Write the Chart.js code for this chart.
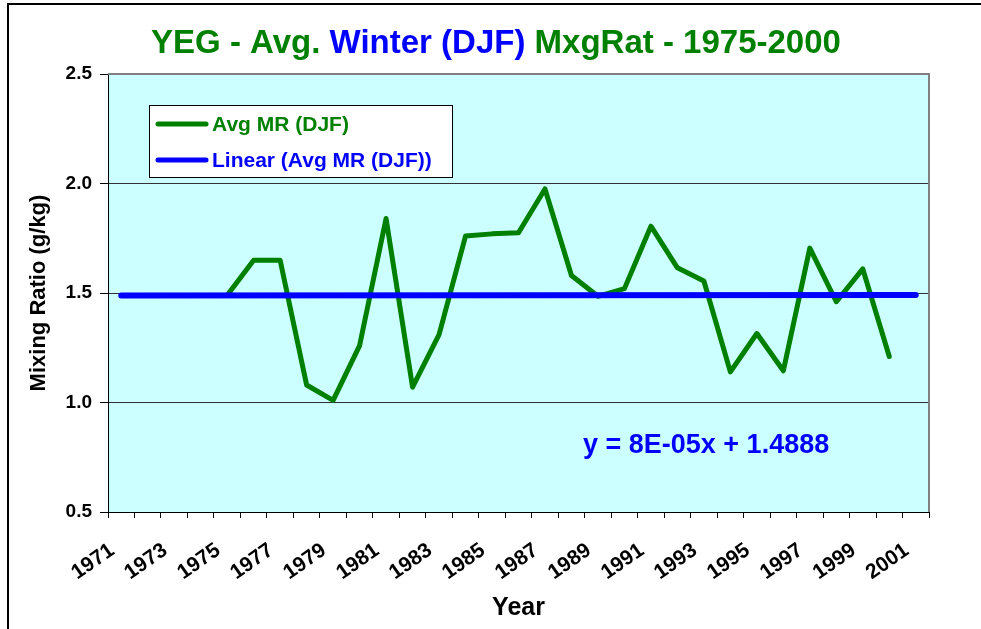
<!DOCTYPE html>
<html>
<head>
<meta charset="utf-8">
<script src="https://cdn.jsdelivr.net/npm/chart.js@4.4.1/dist/chart.umd.min.js"></script>
<style>
  html, body { margin: 0; padding: 0; background: #fff; }
  canvas { display: block; }
</style>
</head>
<body>
<canvas id="chart" width="981" height="629"></canvas>
<script>
// categories on the x axis (every year, labels shown on odd years only)
const years = ['1971','1972','1973','1974','1975','1976','1977','1978','1979','1980',
  '1981','1982','1983','1984','1985','1986','1987','1988','1989','1990',
  '1991','1992','1993','1994','1995','1996','1997','1998','1999','2000','2001']

// Avg MR (DJF), g/kg
const mrValues = [null, null, null, null, 1.49, 1.65, 1.65, 1.08, 1.01, 1.26,
  1.84, 1.07, 1.31, 1.76, 1.77, 1.775, 1.975, 1.58, 1.485, 1.52,
  1.805, 1.615, 1.555, 1.14, 1.315, 1.145, 1.705, 1.46, 1.61, 1.21, null]

// linear trend end points (Excel trendline, forecast to both ends)
const trendYears = ['1971', '2001']
const trendValues = [1.4889, 1.4913]

const yTicks = [0.5, 1.0, 1.5, 2.0, 2.5]

const titleParts = [
  { text: 'YEG - Avg. ', color: '#008000' },
  { text: 'Winter (DJF)', color: '#0000FF' },
  { text: ' MxgRat - 1975-2000', color: '#008000' }
]
const equation = 'y = 8E-05x + 1.4888'

const GREEN = '#008000'
const BLUE = '#0000FF'
const FONT = '"Liberation Sans", Arial, sans-serif'

const decor = {
  id: 'decor',
  beforeDraw(chart) {
    const { ctx, chartArea: a } = chart
    ctx.save()
    ctx.fillStyle = '#fff'
    ctx.fillRect(0, 0, chart.width, chart.height)
    // outer frame
    ctx.strokeStyle = '#000'
    ctx.lineWidth = 2
    ctx.beginPath()
    ctx.moveTo(8, 640)
    ctx.lineTo(8, 4)
    ctx.lineTo(990, 4)
    ctx.stroke()
    // plot background
    ctx.fillStyle = '#CCFFFF'
    ctx.fillRect(a.left, a.top, a.right - a.left, a.bottom - a.top)
    ctx.restore()
  },
  afterDraw(chart) {
    const { ctx, chartArea: a } = chart
    ctx.save()
    // gray top / right border of plot
    ctx.strokeStyle = '#808080'
    ctx.lineWidth = 2
    ctx.beginPath()
    ctx.moveTo(a.left, a.top)
    ctx.lineTo(a.right, a.top)
    ctx.lineTo(a.right, a.bottom)
    ctx.stroke()

    // title, two colours
    ctx.font = 'bold 33px ' + FONT
    ctx.textBaseline = 'middle'
    ctx.textAlign = 'left'
    let total = 0
    titleParts.forEach(p => total += ctx.measureText(p.text).width)
    let x = 496 - total / 2
    titleParts.forEach(p => {
      ctx.fillStyle = p.color
      ctx.fillText(p.text, x, 44)
      x += ctx.measureText(p.text).width
    })

    // legend box
    ctx.fillStyle = '#fff'
    ctx.fillRect(149.5, 105.5, 303, 72)
    ctx.strokeStyle = '#000'
    ctx.lineWidth = 1
    ctx.strokeRect(149.5, 105.5, 303, 72)
    const items = [
      { label: 'Avg MR (DJF)', color: GREEN, y: 124 },
      { label: 'Linear (Avg MR (DJF))', color: BLUE, y: 160 }
    ]
    ctx.lineCap = 'round'
    ctx.font = 'bold 21px ' + FONT
    items.forEach(it => {
      ctx.strokeStyle = it.color
      ctx.lineWidth = 5
      ctx.beginPath()
      ctx.moveTo(158, it.y)
      ctx.lineTo(206, it.y)
      ctx.stroke()
      ctx.fillStyle = it.color
      ctx.fillText(it.label, 212, it.y + 1)
    })

    // trendline equation
    ctx.fillStyle = BLUE
    ctx.font = 'bold 27px ' + FONT
    ctx.fillText(equation, 583, 446)
    ctx.restore()
  }
}

const canvas = document.getElementById('chart')
new Chart(canvas, {
  type: 'line',
  data: {
    labels: years,
    datasets: [
      {
        label: 'Avg MR (DJF)',
        data: mrValues,
        borderColor: GREEN,
        borderWidth: 5,
        pointRadius: 0,
        tension: 0,
        borderCapStyle: 'round',
        borderJoinStyle: 'round',
        order: 2
      },
      {
        label: 'Linear (Avg MR (DJF))',
        data: trendYears.map((y, i) => ({ x: y, y: trendValues[i] })),
        borderColor: BLUE,
        borderWidth: 6,
        pointRadius: 0,
        borderCapStyle: 'round',
        order: 1
      }
    ]
  },
  options: {
    responsive: false,
    animation: false,
    layout: { padding: { top: 74, right: 52, left: 0, bottom: 0 } },
    plugins: {
      legend: { display: false },
      title: { display: false },
      tooltip: { enabled: false }
    },
    scales: {
      x: {
        type: 'category',
        offset: true,
        afterFit: s => { s.height = 117 },
        grid: {
          offset: true,
          drawOnChartArea: false,
          drawTicks: true,
          tickLength: 6,
          color: '#000'
        },
        border: { color: '#000', width: 1 },
        ticks: {
          autoSkip: false,
          minRotation: 35,
          maxRotation: 35,
          padding: 20,
          labelOffset: -9,
          color: '#000',
          font: { family: FONT, size: 21, weight: 'bold' },
          callback: function (v, i) { return i % 2 === 0 ? years[i] : '' }
        },
        title: {
          display: true,
          text: 'Year',
          color: '#000',
          font: { family: FONT, size: 25, weight: 'bold' },
          padding: { top: 0, bottom: 6 }
        }
      },
      y: {
        min: 0.5,
        max: 2.5,
        afterFit: s => { s.width = 108 },
        afterBuildTicks: s => { s.ticks = yTicks.map(v => ({ value: v })) },
        grid: {
          color: '#333',
          tickColor: '#000',
          tickLength: 8,
          lineWidth: 1
        },
        border: { color: '#000', width: 1 },
        ticks: {
          padding: 8,
          color: '#000',
          font: { family: FONT, size: 19, weight: 'bold' },
          callback: v => v.toFixed(1)
        },
        title: {
          display: true,
          text: 'Mixing Ratio (g/kg)',
          color: '#000',
          font: { family: FONT, size: 22, weight: 'bold' },
          padding: { top: 26, bottom: 0 }
        }
      }
    }
  },
  plugins: [decor]
})
</script>
</body>
</html>
